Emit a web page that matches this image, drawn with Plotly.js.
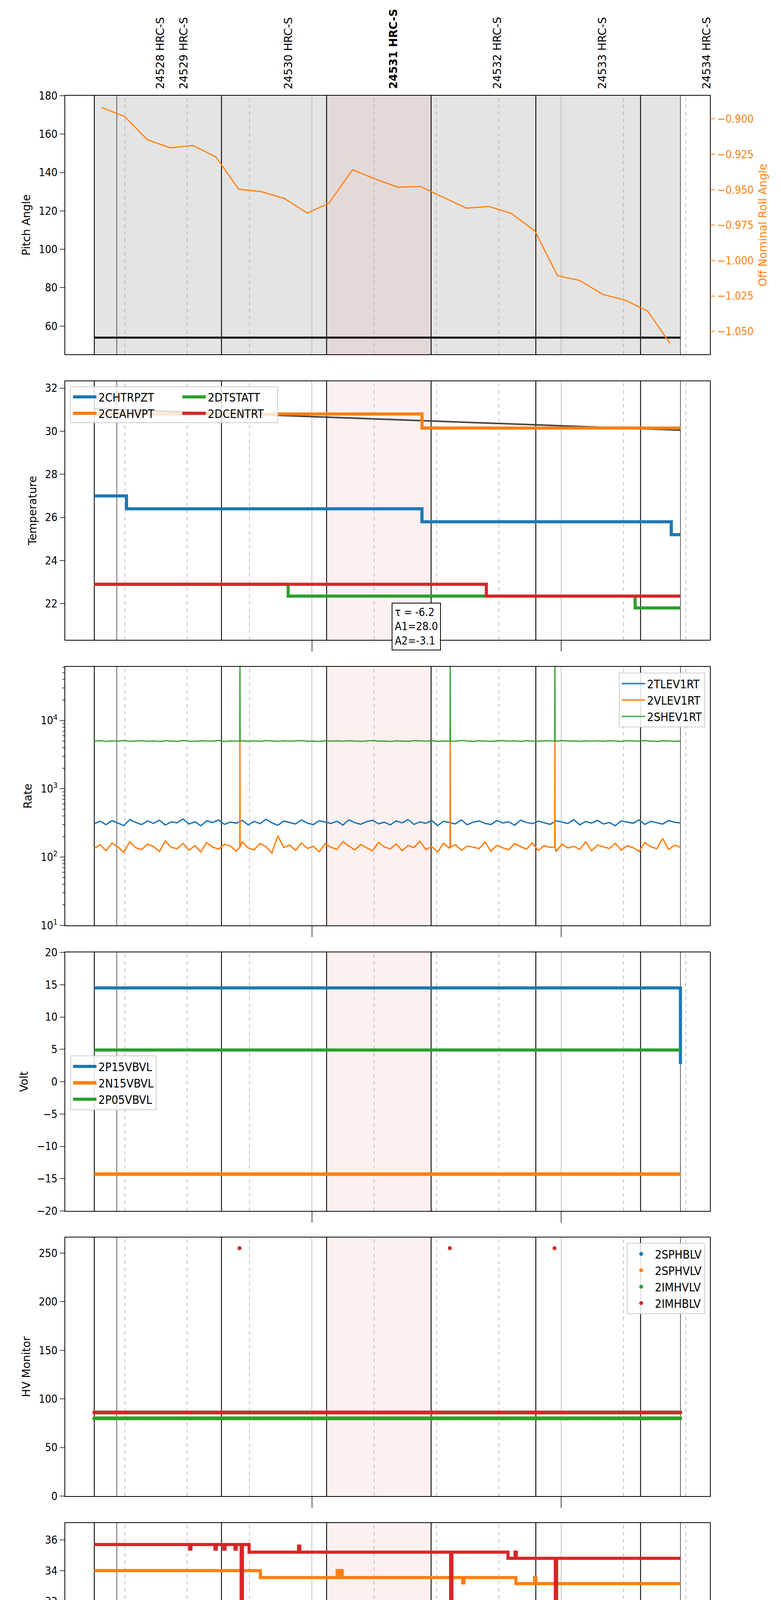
<!DOCTYPE html>
<html><head><meta charset="utf-8">
<script src="https://cdn.plot.ly/plotly-3.0.1.min.js"></script>
<style>body{margin:0}</style>
</head><body>
<div id="chart" style="width:2000px;height:5400px"></div>
<script>
// all times are minutes after 2021-04-04 11:00
const tStart = 7.65, tEnd = 148.7;

// obsid labels at top
const obsLabels = ['24528 HRC-S','24529 HRC-S','24530 HRC-S','24531 HRC-S','24532 HRC-S','24533 HRC-S','24534 HRC-S'];
const obsTimes = [23.55, 29.2, 54.4, 79.6, 104.6, 129.9, 155.0];
const boldObs = '24531 HRC-S';

// vertical markers
const blackLines = [7.65, 38.25, 63.55, 88.7, 113.9, 139.1];
const thinBlackLines = [13.07, 148.7];
const hourLines = [60, 120];
const dashedLines = [15, 30, 45, 75, 90, 105, 135, 150];
const pinkSpan = [63.55, 88.7];

// panel 1 : pitch & roll
const rollTimes = [9.4,14.9,20.4,25.9,31.4,36.9,42.4,47.9,53.4,58.9,64.1,69.8,75.2,80.7,86.1,91.7,97.2,102.6,108.0,113.7,119.1,124.5,130.0,135.4,140.8,146.2];
const rollVals = [-0.8919,-0.8982,-0.9146,-0.9204,-0.9188,-0.9268,-0.9496,-0.9514,-0.9562,-0.9665,-0.9595,-0.9359,-0.9424,-0.9482,-0.9477,-0.9555,-0.9630,-0.9618,-0.9667,-0.9792,-1.0107,-1.0141,-1.0239,-1.0280,-1.0356,-1.0585];
const pitchTimes = [tStart, tEnd];
const pitchVals = [54, 54];

// panel 2 : temperature
const fitTimes = [tStart, tEnd], fitVals = [31.05, 30.05];
const chtrpztT = [tStart, 15.4, 19.5, 60.0, 86.5, 146.5, tEnd], chtrpztV = [27.0, 26.4, 26.4, 26.4, 25.8, 25.2, 25.2];
const ceahvptT = [tStart, 86.5, tEnd], ceahvptV = [30.8, 30.15, 30.15];
const dtstattT = [tStart, 54.3, 137.8, tEnd], dtstattV = [22.9, 22.35, 21.8, 21.8];
const dcentrtT = [tStart, 102.0, tEnd], dcentrtV = [22.9, 22.35, 22.35];

// panel 3 : rates (one sample every ~1.42 min)
const rateBlue = [310,335,298,342,315,290,355,322,300,338,312,347,295,328,318,362,305,330,288,340,320,350,302,326,314,345,297,333,309,358,318,292,337,321,306,349,315,299,341,327,311,336,294,352,319,303,331,346,308,324,296,339,317,355,301,328,313,343,290,334,320,307,351,298,325,338,312,300,344,316,329,293,347,322,309,336,318,302,340,326,311,354,297,332,315,345,306,321,288,339,327,313,350,301,334,319,305,343,324,316];
const rateOrange = [135,152,124,160,141,118,168,137,129,155,143,121,172,139,133,158,126,147,119,163,140,131,154,145,122,167,136,128,159,142,115,205,138,150,125,161,134,144,120,157,139,130,169,146,127,153,137,123,164,141,132,156,124,148,138,171,129,143,119,160,135,151,126,145,140,133,166,122,149,137,128,158,143,131,162,125,147,139,120,155,136,144,130,167,124,150,141,134,159,127,146,138,121,163,142,133,188,129,149,140];
const rateGreen = [5000,5080,4950,5040,4990,5100,4960,5020,5060,4980,5030,4940,5070,5010,4970,5090,5000,4960,5050,5020,4990,5110,4950,5030,5000,5060,4970,5040,4980,5080,5010,4960,5050,4990,5030,5100,4970,5020,4950,5060,5000,5040,4980,5070,5010,4960,5030,5090,4990,5020,4950,5050,5000,4970,5080,5030,4990,5060,4960,5010,5040,4980,5100,5020,4970,5050,5000,4960,5030,5080,4990,5040,4950,5070,5010,4980,5060,5020,4970,5090,5000,5030,4960,5050,4990,5040,4980,5070,5010,4950,5060,5020,4990,5080,5000,4970,5040,5030,4960,5010];
const spikeTimes = [42.7, 93.3, 118.5];
const spikeGreen = [90000, 90000, 90000];
const spikeOrange = [5000, 5000, 5000];
const logMinor = [20,30,40,50,60,70,80,90,200,300,400,500,600,700,800,900,2000,3000,4000,5000,6000,7000,8000,9000,20000,30000,40000,50000,60000];

// panel 4 : voltages
const p15T = [tStart, 148.4, tEnd], p15V = [14.5, 14.5, 2.7];
const n15T = [tStart, tEnd], n15V = [-14.3, -14.3];
const p05T = [tStart, tEnd], p05V = [4.9, 4.9];

// panel 5 : HV monitor
const hvRedT = [tStart, 42.6, 42.8, 93.2, 93.4, 118.4, 118.6, tEnd], hvRedV = [86, 255, 86, 255, 86, 255, 86, 86];
const hvGreenT = [tStart, tEnd], hvGreenV = [80, 80];

// panel 6 : detector temps
const spinatmT = [tStart, tEnd], spinatmV = [21.7, 21.7];
const sphvatmT = [tStart,47.6,66.1,66.5,67.0,67.3,96.3,96.6,109.1,113.6,113.9,tEnd];
const sphvatmV = [34.0,33.55,34.0,33.55,34.0,33.55,33.2,33.55,33.15,33.55,33.15,33.15];
const iminatmT = [tStart,42.1,42.4,44.4,45.3,45.6,tEnd];
const iminatmV = [23.1,22.4,23.1,22.4,23.1,22.4,22.4];
const imhvatmT = [tStart,30.6,30.9,36.7,37.0,38.8,39.1,41.5,41.8,43.0,43.3,44.9,56.8,57.1,93.4,93.7,107.2,108.9,109.2,118.6,118.9,tEnd];
const imhvatmV = [35.7,35.4,35.7,35.4,35.7,35.4,35.7,35.4,35.7,19,35.7,35.2,35.6,35.2,19,35.2,34.8,35.2,34.8,19,34.8,34.8];

// panel 7 : FEA temps
const fhtrmztT = [tStart, 30.4, 88.1, tEnd], fhtrmztV = [24.6, 24.05, 23.5, 23.5];
const fradpytT = [tStart, 13.0, 63.3, 121.4, tEnd], fradpytV = [19.15, 18.65, 18.15, 17.65, 17.65];
const fepratmT = [tStart,43.0,43.3,44.5,93.4,93.7,118.6,118.9,134.4,tEnd];
const fepratmV = [26.2,23.6,26.2,25.4,23.3,25.4,23.1,25.4,24.6,24.6];
const fe00atmT = [tStart,9.0,9.3,17.2,17.5,21.4,21.7,23.0,23.3,25.0,25.3,29.7,30.0,33.5,33.8,34.9,35.2,43.0,43.3,49.1,49.4,70.7,71.5,72.5,75.3,75.6,84.8,85.1,93.4,93.7,94.7,95.0,98.8,99.1,100.7,101.0,115.1,115.4,117.2,118.6,118.9,119.7,120.0,126.3,126.6,128.4,128.7,129.6,129.9,131.8,132.1,134.1,134.4,140.0,140.3,143.1,143.4,tEnd];
const fe00atmV = [23.95,23.3,23.95,23.65,23.95,22.7,23.95,23.6,23.95,24.3,23.95,25.0,23.6,23.95,23.6,23.95,23.6,16.0,23.6,23.3,23.6,23.3,23.6,23.3,23.6,23.3,22.0,23.3,16.0,23.3,23.0,23.3,23.65,23.3,23.0,23.3,22.6,23.3,22.95,16.0,22.95,23.3,22.95,22.65,22.95,24.0,22.95,22.3,22.95,22.65,22.95,22.65,22.95,21.7,22.95,22.65,22.95,22.95];

const C = {blue:'#1f77b4', orange:'#ff7f0e', green:'#2ca02c', red:'#d62728'};
const FONT = 'DejaVu Sans';
const TICKFONT = 'DejaVu Sans Condensed, DejaVu Sans';

function T(m) {
  const d = new Date(Date.UTC(2021, 3, 4, 11, 0, 0) + Math.round(m * 60000));
  return d.toISOString().replace('T', ' ').slice(0, 19);
}
const TT = a => a.map(T);

// panel geometry (pixels)
const W = 2000, H = 5400, L = 167, R = 1818;
const tops = [245, 976, 1707, 2438, 3168, 3899, 4629], ph = 662;
const dom = i => [1 - (tops[i] + ph) / H, 1 - tops[i] / H];
const px = x => (x - L) / (R - L);
const py = y => 1 - y / H;

function step(t, v, name, color, ax, legend, width) {
  return {x: TT(t), y: v, name: name, mode: 'lines', line: {shape: 'hv', color: color, width: width || 8},
    yaxis: ax, legend: legend, showlegend: !!legend};
}

const traces = [];
// panel 1
traces.push({x: TT(pitchTimes), y: pitchVals, mode: 'lines', line: {color: 'black', width: 5}, yaxis: 'y', showlegend: false});
traces.push({x: TT(rollTimes), y: rollVals, mode: 'lines', line: {color: C.orange, width: 3}, yaxis: 'y8', showlegend: false});

// panel 2
traces.push({x: TT(fitTimes), y: fitVals, mode: 'lines', line: {color: '#444', width: 4}, yaxis: 'y2', showlegend: false});
traces.push(step(chtrpztT, chtrpztV, '2CHTRPZT', C.blue, 'y2', 'legend'));
traces.push(step(ceahvptT, ceahvptV, '2CEAHVPT', C.orange, 'y2', 'legend'));
traces.push(step(dtstattT, dtstattV, '2DTSTATT', C.green, 'y2', 'legend7'));
traces.push(step(dcentrtT, dcentrtV, '2DCENTRT', C.red, 'y2', 'legend7'));

// panel 3
const rateT = rateBlue.map((_, i) => tStart + i * (tEnd - tStart) / (rateBlue.length - 1));
function withSpikes(vals, spikes, base) {
  const pts = rateT.map((t, i) => [t, vals[i]]);
  spikeTimes.forEach((t, i) => { pts.push([t - 0.05, base], [t, spikes[i]], [t + 0.05, base]); });
  pts.sort((a, b) => a[0] - b[0]);
  return {x: TT(pts.map(p => p[0])), y: pts.map(p => p[1])};
}
const rb = {x: TT(rateT), y: rateBlue};
const ro = withSpikes(rateOrange, spikeOrange, 140);
const rg = withSpikes(rateGreen, spikeGreen, 5000);
traces.push({...rb, name: '2TLEV1RT', mode: 'lines', line: {color: C.blue, width: 3.5}, yaxis: 'y3', legend: 'legend2'});
traces.push({...ro, name: '2VLEV1RT', mode: 'lines', line: {color: C.orange, width: 3.5}, yaxis: 'y3', legend: 'legend2'});
traces.push({...rg, name: '2SHEV1RT', mode: 'lines', line: {color: C.green, width: 3}, yaxis: 'y3', legend: 'legend2'});

// panel 4
traces.push(step(p15T, p15V, '2P15VBVL', C.blue, 'y4', 'legend3'));
traces.push(step(n15T, n15V, '2N15VBVL', C.orange, 'y4', 'legend3', 9));
traces.push(step(p05T, p05V, '2P05VBVL', C.green, 'y4', 'legend3'));

// panel 5 (markers sampled every half minute from the step values)
function sampleStep(t, v) {
  const xs = [], ys = [];
  for (let m = tStart; m <= tEnd; m += 0.5) {
    let k = 0; while (k + 1 < t.length && t[k + 1] <= m) k++;
    xs.push(m); ys.push(v[k] > 200 ? 86 : v[k]);
  }
  t.forEach((tt, i) => { if (v[i] > 200) { xs.push(tt); ys.push(v[i]); } });
  return {x: TT(xs), y: ys};
}
const hvR = sampleStep(hvRedT, hvRedV), hvG = sampleStep(hvGreenT, hvGreenV);
traces.push({...hvR, name: '2SPHBLV', mode: 'markers', marker: {color: C.blue, size: 10}, yaxis: 'y5', legend: 'legend4'});
traces.push({...hvG, name: '2SPHVLV', mode: 'markers', marker: {color: C.orange, size: 10}, yaxis: 'y5', legend: 'legend4'});
traces.push({...hvG, name: '2IMHVLV', mode: 'markers', marker: {color: C.green, size: 10}, yaxis: 'y5', legend: 'legend4'});
traces.push({...hvR, name: '2IMHBLV', mode: 'markers', marker: {color: C.red, size: 10}, yaxis: 'y5', legend: 'legend4'});

// panel 6
traces.push(step(spinatmT, spinatmV, '2SPINATM', C.blue, 'y6', 'legend5'));
traces.push(step(sphvatmT, sphvatmV, '2SPHVATM', C.orange, 'y6', 'legend5'));
traces.push(step(iminatmT, iminatmV, '2IMINATM', C.green, 'y6', 'legend5'));
traces.push(step(imhvatmT, imhvatmV, '2IMHVATM', C.red, 'y6', 'legend5'));

// panel 7
traces.push(step(fhtrmztT, fhtrmztV, '2FHTRMZT', C.blue, 'y7', 'legend6'));
traces.push(step(fradpytT, fradpytV, '2FRADPYT', C.orange, 'y7', 'legend6'));
traces.push(step(fepratmT, fepratmV, '2FEPRATM', C.green, 'y7', 'legend6'));
traces.push(step(fe00atmT, fe00atmV, '2FE00ATM', C.red, 'y7', 'legend6'));

// background shapes
const shapes = [];
for (let i = 1; i <= 7; i++) {
  const xref = i === 1 ? 'x' : 'x' + i;
  const yref = (i === 1 ? 'y' : 'y' + i) + ' domain';
  const vl = (t, color, width, dash) => shapes.push({type: 'line', xref: xref, yref: yref, x0: T(t), x1: T(t), y0: 0, y1: 1,
    line: {color: color, width: width, dash: dash || 'solid'}, layer: 'below'});
  if (i === 1) shapes.push({type: 'rect', xref: xref, yref: yref, x0: T(tStart), x1: T(tEnd), y0: 0, y1: 1,
    fillcolor: '#e4e4e4', line: {width: 0}, layer: 'below'});
  shapes.push({type: 'rect', xref: xref, yref: yref, x0: T(pinkSpan[0]), x1: T(pinkSpan[1]), y0: 0, y1: 1,
    fillcolor: i === 1 ? '#e4d9d9' : '#fdf0f0', line: {width: 0}, layer: 'below'});
  dashedLines.forEach(t => vl(t, '#aaaaaa', 1.5, 'dash'));
  hourLines.forEach(t => vl(t, '#b0b0b0', 1.5));
  blackLines.forEach(t => vl(t, 'black', 2.2));
  thinBlackLines.forEach(t => vl(t, 'black', 1.2));
}
// box behind the two-column legend of panel 2
shapes.push({type: 'rect', xref: 'paper', yref: 'paper', x0: px(180), x1: px(711), y0: py(1082), y1: py(990),
  fillcolor: 'rgba(255,255,255,0.8)', line: {color: '#cccccc', width: 2}});
// short minor ticks on the log axis
logMinor.forEach(v => shapes.push({type: 'line', xref: 'paper', yref: 'y3', x0: -0.0045, x1: 0, y0: v, y1: v,
  line: {color: 'black', width: 1.5}}));

const annotations = [];
obsLabels.forEach((s, i) => annotations.push({x: T(obsTimes[i]), xref: 'x', y: py(230), yref: 'paper', yanchor: 'bottom',
  text: s === boldObs ? '<b>' + s + '</b>' : s, showarrow: false, textangle: -90, font: {family: FONT, size: 28, color: 'black'}}));
[15, 30, 45, 75, 90, 105, 135, 150].forEach(t => annotations.push({x: T(t), xref: 'x', y: py(5298), yref: 'paper', yanchor: 'top',
  text: String(t % 60), showarrow: false, font: {family: TICKFONT, size: 18, color: 'black'}}));
annotations.push({x: 0.5, xref: 'paper', y: py(5358), yref: 'paper', yanchor: 'top', text: '2021-04-04 (094)',
  showarrow: false, font: {family: TICKFONT, size: 34, color: 'black'}});
annotations.push({x: T(79.2), xref: 'x2', y: 22.05, yref: 'y2', xanchor: 'left', yanchor: 'top', align: 'left',
  text: 'τ = -6.2<br>A1=28.0<br>A2=-3.1', showarrow: false, bordercolor: 'black', borderwidth: 2, borderpad: 6, bgcolor: 'white',
  font: {family: TICKFONT, size: 28, color: 'black'}});

const xbase = {type: 'date', range: [T(0.66), T(155.8)], showgrid: false, showline: true, mirror: true, linecolor: 'black', linewidth: 2,
  tickvals: [T(60), T(120)], ticks: 'outside', ticklen: 28, tickwidth: 2, showticklabels: false, zeroline: false};
function yax(i, title, extra) {
  return Object.assign({domain: dom(i), anchor: 'x' + (i === 0 ? '' : i + 1), showgrid: false, zeroline: false, showline: true, mirror: true,
    linecolor: 'black', linewidth: 2, ticks: 'outside', ticklen: 12, tickwidth: 2,
    tickfont: {family: TICKFONT, size: 28, color: 'black'},
    title: {text: title, font: {family: FONT, size: 28, color: 'black'}, standoff: 14}}, extra || {});
}
const layout = {
  width: W, height: H, margin: {l: L, r: W - R, t: 0, b: 0}, paper_bgcolor: 'white', plot_bgcolor: 'white',
  showlegend: true, shapes: shapes, annotations: annotations,
  xaxis: Object.assign({}, xbase, {domain: [0, 1], anchor: 'y', ticklen: 0, tickvals: []}),
  yaxis: yax(0, 'Pitch Angle', {range: [45.3, 180], tickvals: [60, 80, 100, 120, 140, 160, 180]}),
  yaxis8: {overlaying: 'y', side: 'right', anchor: 'x', range: [-1.0662, -0.8836], tickvals: [-0.9, -0.925, -0.95, -0.975, -1.0, -1.025, -1.05],
    tickformat: '.3f', showgrid: false, zeroline: false, ticks: 'outside', ticklen: 12, tickwidth: 2, tickcolor: C.orange,
    tickfont: {family: TICKFONT, size: 28, color: C.orange},
    title: {text: 'Off Nominal Roll Angle', font: {family: FONT, size: 28, color: C.orange}, standoff: 14}},
  yaxis2: yax(1, 'Temperature', {range: [20.32, 32.32], dtick: 2}),
  yaxis3: yax(2, 'Rate', {type: 'log', range: [1, 4.787], tickvals: [10, 100, 1000, 10000],
    ticktext: ['10<sup>1</sup>', '10<sup>2</sup>', '10<sup>3</sup>', '10<sup>4</sup>']}),
  yaxis4: yax(3, 'Volt', {range: [-20, 20], dtick: 5}),
  yaxis5: yax(4, 'HV Monitor', {range: [0, 266], dtick: 50}),
  yaxis6: yax(5, 'Detector Temp', {range: [20.24, 37.1], dtick: 2}),
  yaxis7: yax(6, 'FEA Temp', {range: [16.64, 27.68], dtick: 2}),
};
for (let i = 2; i <= 7; i++) {
  layout['xaxis' + i] = Object.assign({}, xbase, {domain: [0, 1], anchor: 'y' + i, matches: 'x'});
}
// bottom axis: labelled hours plus minor ticks
layout.xaxis7.showticklabels = true;
layout.xaxis7.ticktext = ['12h', '13h'];
layout.xaxis7.tickfont = {family: TICKFONT, size: 30, color: 'black'};
layout.xaxis7.minor = {tickvals: [15, 30, 45, 75, 90, 105, 135, 150].map(T), ticks: 'outside', ticklen: 7, tickcolor: 'black'};
layout.xaxis7.ticklen = 18;
traces.forEach(tr => { tr.xaxis = tr.yaxis === 'y8' || tr.yaxis === 'y' ? 'x' : 'x' + tr.yaxis.slice(1); });
// legends
const lg = (x, y, xanchor, border) => ({x: x, y: y, xanchor: xanchor, yanchor: 'top', xref: 'paper', yref: 'paper',
  bgcolor: border ? 'rgba(255,255,255,0.85)' : 'rgba(0,0,0,0)', bordercolor: border ? '#cccccc' : 'rgba(0,0,0,0)', borderwidth: border ? 2 : 0,
  font: {family: TICKFONT, size: 30, color: 'black'}, itemwidth: 60, tracegroupgap: 4});
layout.legend = lg(px(182), py(990), 'left', false);
layout.legend7 = lg(px(462), py(990), 'left', false);
layout.legend2 = lg(px(1805), py(1722), 'right', true);
layout.legend3 = lg(px(180), py(2702), 'left', true);
layout.legend4 = lg(px(1805), py(3182), 'right', true);
layout.legend5 = lg(px(1805), py(4142), 'right', true);
layout.legend6 = lg(px(180), py(4873), 'left', true);

Plotly.newPlot('chart', traces, layout, {staticPlot: true});
</script>
</body></html>
